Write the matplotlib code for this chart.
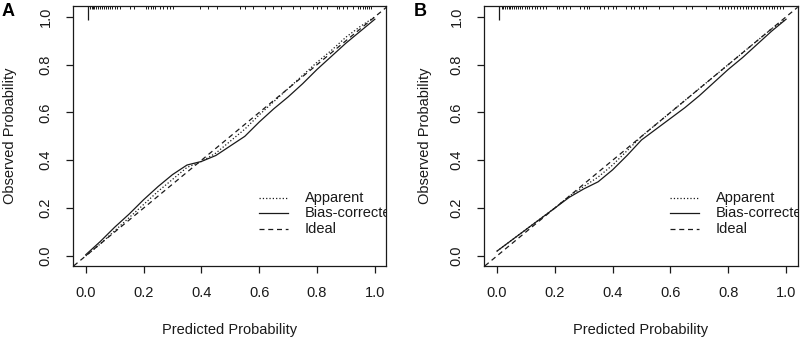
import matplotlib
matplotlib.use("Agg")
import matplotlib.pyplot as plt
import matplotlib.transforms as mtransforms

plt.rcParams['font.family'] = ['Liberation Sans', 'DejaVu Sans']

# predicted probability grid for the calibration curves
pred = [0.0, 0.05, 0.1, 0.15, 0.2, 0.25, 0.3, 0.35, 0.4, 0.45, 0.5,
        0.55, 0.6, 0.65, 0.7, 0.75, 0.8, 0.85, 0.9, 0.95, 1.0]

# panel A
apparent_a = [0.0, 0.05, 0.105, 0.16, 0.215, 0.27, 0.32, 0.37, 0.395, 0.43, 0.48,
              0.53, 0.59, 0.645, 0.70, 0.755, 0.81, 0.86, 0.915, 0.96, 1.0]
bias_a = [0.005, 0.06, 0.12, 0.175, 0.235, 0.29, 0.34, 0.38, 0.395, 0.42, 0.46,
          0.50, 0.56, 0.615, 0.665, 0.72, 0.78, 0.835, 0.89, 0.94, 0.99]
rug_a = [0.008, 0.015, 0.02, 0.025, 0.03, 0.036, 0.042, 0.05, 0.055, 0.062, 0.07,
         0.078, 0.085, 0.092, 0.1, 0.108, 0.118, 0.152, 0.166, 0.208, 0.215, 0.224,
         0.232, 0.239, 0.256, 0.268, 0.28, 0.29, 0.301, 0.394, 0.422, 0.453, 0.533,
         0.55, 0.578, 0.619, 0.647, 0.677, 0.716, 0.74, 0.786, 0.8, 0.812, 0.833,
         0.868, 0.875, 0.89, 0.905, 0.925, 0.942, 0.95, 0.958, 0.965, 0.972, 0.98, 0.988]
rug_a_peak = 0.008

# panel B
apparent_b = [0.02, 0.065, 0.11, 0.155, 0.2, 0.25, 0.29, 0.33, 0.38, 0.44, 0.5,
              0.55, 0.6, 0.65, 0.7, 0.75, 0.8, 0.85, 0.9, 0.95, 0.99]
bias_b = [0.02, 0.065, 0.11, 0.155, 0.2, 0.245, 0.28, 0.31, 0.36, 0.42, 0.485,
          0.53, 0.575, 0.62, 0.67, 0.725, 0.78, 0.83, 0.885, 0.94, 0.99]
rug_b = [0.008, 0.016, 0.022, 0.028, 0.034, 0.04, 0.046, 0.052, 0.058, 0.065, 0.072,
         0.08, 0.088, 0.096, 0.104, 0.112, 0.12, 0.13, 0.14, 0.15, 0.16, 0.171,
         0.206, 0.215, 0.228, 0.24, 0.252, 0.286, 0.3, 0.31, 0.32, 0.355, 0.37,
         0.385, 0.4, 0.413, 0.448, 0.462, 0.475, 0.49, 0.505, 0.517, 0.562, 0.608,
         0.655, 0.676, 0.724, 0.769, 0.78, 0.79, 0.8, 0.81, 0.82, 0.83, 0.84, 0.85,
         0.86, 0.87, 0.88, 0.89, 0.9, 0.91, 0.92, 0.93, 0.94, 0.95, 0.96, 0.97, 0.98, 0.99]
rug_b_peak = 0.008

ticks = [0.0, 0.2, 0.4, 0.6, 0.8, 1.0]
labels = ['Apparent', 'Bias-corrected', 'Ideal']
ink = '#1a1a1a'

fig = plt.figure(figsize=(8, 3.44), dpi=100)
ax_a = fig.add_axes([0.091, 0.227, 0.392, 0.756])
ax_b = fig.add_axes([0.605, 0.227, 0.392, 0.756])


def calib(ax, apparent, bias, rug, peak, letter, letter_x, ylab_x):
    ax.plot(pred, apparent, ':', color=ink, lw=0.9)
    ax.plot(pred, bias, '-', color=ink, lw=0.9)
    ax.axline((0, 0), slope=1, ls=(0, (4, 3)), color=ink, lw=0.9)

    trans = mtransforms.blended_transform_factory(ax.transData, ax.transAxes)
    ax.vlines(rug, 0.988, 1.0, transform=trans, color=ink, lw=0.7)
    ax.vlines([peak], 0.945, 1.0, transform=trans, color=ink, lw=0.9)

    ax.set_xlim(-0.045, 1.04)
    ax.set_ylim(-0.042, 1.046)
    ax.set_xticks(ticks)
    ax.set_yticks(ticks)
    ax.set_xticklabels(['%.1f' % t for t in ticks])
    ax.set_yticklabels(['%.1f' % t for t in ticks], rotation=90, va='center')
    ax.tick_params(length=5, width=0.9, labelsize=10.5, colors=ink, pad=9.5)
    for s in ax.spines.values():
        s.set_linewidth(0.9)
        s.set_color(ink)

    ax.set_xlabel('Predicted Probability', fontsize=10.5, color=ink, va='center')
    ax.xaxis.set_label_coords(0.5, -0.246)
    ax.set_ylabel('Observed Probability', fontsize=10.5, color=ink, va='center')
    ax.yaxis.set_label_coords(ylab_x, 0.5)

    # legend drawn R-style inside the plot, clipped at the frame
    rows = [0.243, 0.18, 0.113]
    styles = [':', '-', (0, (4, 3))]
    for yy, st, lab in zip(rows, styles, labels):
        ax.plot([0.6, 0.7], [yy, yy], ls=st, color=ink, lw=0.9)
        ax.text(0.757, yy, lab, fontsize=10.5, color=ink, va='center',
                ha='left', clip_on=True)

    fig.text(letter_x, 0.968, letter, fontsize=13,
             fontweight='bold', va='center', ha='center')


calib(ax_a, apparent_a, bias_a, rug_a, rug_a_peak, 'A', 0.01, -0.201)
calib(ax_b, apparent_b, bias_b, rug_b, rug_b_peak, 'B', 0.525, -0.188)

fig.savefig('out.png', dpi=100)
